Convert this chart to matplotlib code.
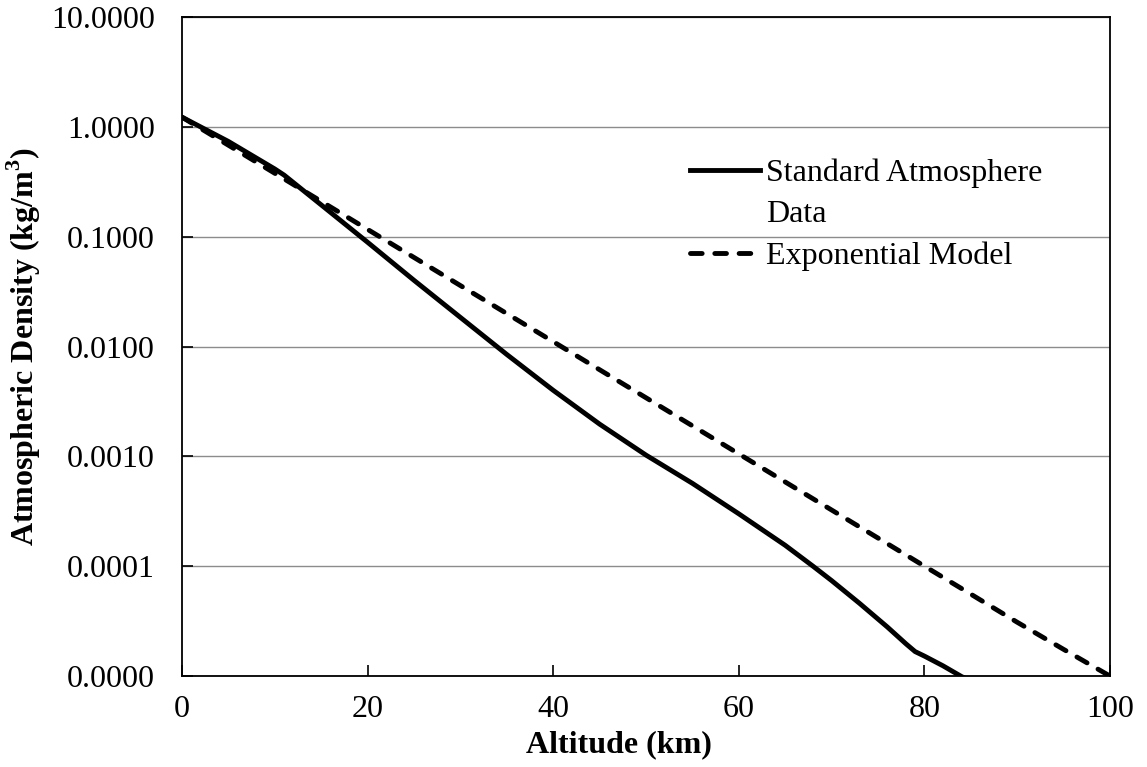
import matplotlib.pyplot as plt
from matplotlib.lines import Line2D
from matplotlib.patches import Rectangle
from matplotlib.ticker import FuncFormatter, FixedLocator, NullLocator

plt.rcParams['font.family'] = ['Liberation Serif', 'DejaVu Serif']
plt.rcParams['mathtext.fontset'] = 'custom'
plt.rcParams['mathtext.rm'] = 'Liberation Serif'
plt.rcParams['mathtext.bf'] = 'Liberation Serif:bold'

# standard atmosphere density (km, kg/m^3)
std_alt = [0, 5, 10, 11, 15, 20, 25, 30, 35, 40, 45, 50, 55, 60, 65, 68,
           70, 73, 76, 78, 79, 80, 82, 84, 85]
std_rho = [1.225, 0.7364, 0.4135, 0.3639, 0.1948, 0.08891, 0.04008, 0.01841,
           0.008463, 0.003996, 0.001966, 0.001027, 0.0005681, 0.0003,
           0.000155, 1.0e-4, 7.4e-5, 4.6e-5, 2.8e-5, 1.97e-5, 1.67e-5,
           1.52e-5, 1.24e-5, 9.9e-6, 9.0e-6]

# exponential model
exp_alt = [0, 5, 10, 15, 20, 25, 30, 35, 40, 45, 50, 55, 60, 65, 70, 75, 80, 85, 90, 95, 100]
exp_rho = [1.225, 0.6803, 0.3778, 0.2098, 0.1165, 0.0647, 0.0359, 0.01995,
           0.01108, 0.00615, 0.003417, 0.001898, 0.001054, 0.000585,
           0.000325, 0.0001805, 0.0001002, 5.57e-5, 3.09e-5, 1.75e-5, 1.0e-5]

y_ticks = [1e-5, 1e-4, 1e-3, 1e-2, 1e-1, 1, 10]
x_ticks = [0, 20, 40, 60, 80, 100]

dash = (0, (2.4, 2.6))

fig = plt.figure(figsize=(11.47, 7.67), dpi=100)
ax = fig.add_axes([0.1587, 0.1186, 0.809, 0.8592])

ax.plot(std_alt, std_rho, color='black', lw=3.5, solid_capstyle='butt',
        solid_joinstyle='round', zorder=3)
ax.plot(exp_alt, exp_rho, color='black', lw=3.5, ls=dash,
        dash_capstyle='round', zorder=3)

ax.set_yscale('log')
ax.set_xlim(0, 100)
ax.set_ylim(1e-5, 10)
ax.yaxis.set_major_locator(FixedLocator(y_ticks))
ax.yaxis.set_minor_locator(NullLocator())
ax.yaxis.set_major_formatter(FuncFormatter(lambda v, p: f'{v:.4f}'))
ax.set_xticks(x_ticks)

ax.grid(axis='y', color='#8c8c8c', lw=1.0, zorder=0)
ax.tick_params(axis='both', direction='in', length=8, width=1.2,
               labelsize=23, colors='black')
ax.tick_params(axis='y', pad=19.5)
ax.tick_params(axis='x', pad=14)
for s in ax.spines.values():
    s.set_linewidth(1.3)

ax.set_xlabel('Altitude (km)', fontsize=23, fontweight='bold')
ax.xaxis.set_label_coords(0.471, -0.082)
ax.set_ylabel(r'Atmospheric Density (kg/m$^{\mathbf{3}}$)', fontsize=23,
              fontweight='bold', labelpad=6)

# white legend background that breaks the gridline
ax.add_patch(Rectangle((0.504, 0.586), 0.467, 0.235, transform=ax.transAxes,
                       facecolor='white', edgecolor='none', zorder=1))

handles = [Line2D([], [], color='black', lw=3.5),
           Line2D([], [], color='none'),
           Line2D([], [], color='black', lw=3.5, ls=dash,
                  dash_capstyle='round')]
labels = ['Standard Atmosphere', 'Data', 'Exponential Model']
ax.legend(handles, labels, loc='upper left', bbox_to_anchor=(0.547, 0.785),
          frameon=False, fontsize=23, handlelength=2.2, handletextpad=0.2,
          labelspacing=0.37, borderpad=0, borderaxespad=0)

fig.savefig('out.png', dpi=100)
